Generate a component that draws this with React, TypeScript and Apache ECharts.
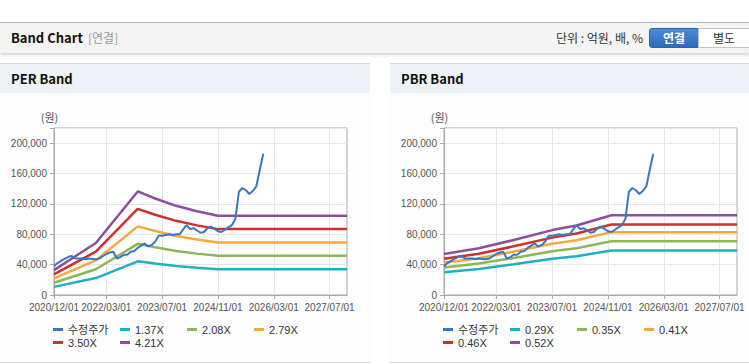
import React, { useEffect, useRef } from "react";
import * as echarts from "echarts";

// ---------- data ----------
const START_YEAR = 2020;
const START_MONTH = 12;
const MONTH_COUNT = 85; // 2020/12 .. 2027/12

const X_TICKS = ["2020/12/01", "2022/03/01", "2023/07/01", "2024/11/01", "2026/03/01", "2027/07/01"];

// adjusted share price (수정주가), monthly from 2020/12
const PRICE = [
  38000, 42000, 45000, 47500, 50000, 51500, 48000, 48000, 48000, 47000,
  48000, 47500, 47000, 48000, 51000, 54000, 56000, 57000, 48000, 50000,
  53000, 53000, 57000, 58000, 62000, 65000, 68000, 64000, 66000, 70000,
  78000, 78000, 79000, 80000, 79000, 80000, 80000, 86000, 92000, 87000,
  88000, 85000, 82000, 83000, 88000, 90000, 87000, 84000, 83000, 86000,
  89000, 92000, 100000, 136000, 141000, 138000, 133000, 137000, 143000, 165000,
  186000,
];

const PER_NAMES = ["1.37X", "2.08X", "2.79X", "3.50X", "4.21X"];
const PER_1_37 = [["2020/12/01", 10700], ["2021/12/01", 22300], ["2022/12/01", 44400], ["2023/05/01", 41400], ["2023/11/01", 38200], ["2024/05/01", 35900], ["2024/11/01", 34000], ["2027/12/01", 34000]];
const PER_2_08 = [["2020/12/01", 16200], ["2021/12/01", 33900], ["2022/12/01", 67400], ["2023/05/01", 62800], ["2023/11/01", 58000], ["2024/05/01", 54500], ["2024/11/01", 51600], ["2027/12/01", 51600]];
const PER_2_79 = [["2020/12/01", 21800], ["2021/12/01", 45500], ["2022/12/01", 90400], ["2023/05/01", 84300], ["2023/11/01", 77800], ["2024/05/01", 73100], ["2024/11/01", 69200], ["2027/12/01", 69200]];
const PER_3_50 = [["2020/12/01", 27300], ["2021/12/01", 57100], ["2022/12/01", 113400], ["2023/05/01", 105700], ["2023/11/01", 97700], ["2024/05/01", 91700], ["2024/11/01", 86800], ["2027/12/01", 86800]];
const PER_4_21 = [["2020/12/01", 32800], ["2021/12/01", 68600], ["2022/12/01", 136400], ["2023/05/01", 127100], ["2023/11/01", 117500], ["2024/05/01", 110300], ["2024/11/01", 104400], ["2027/12/01", 104400]];

const PBR_NAMES = ["0.29X", "0.35X", "0.41X", "0.46X", "0.52X"];
const PBR_0_29 = [["2020/12/01", 30100], ["2021/10/01", 34300], ["2022/08/01", 40400], ["2023/07/01", 47700], ["2024/02/01", 51000], ["2024/12/01", 58600], ["2027/12/01", 58600]];
const PBR_0_35 = [["2020/12/01", 36300], ["2021/10/01", 41400], ["2022/08/01", 48800], ["2023/07/01", 57500], ["2024/02/01", 61600], ["2024/12/01", 70700], ["2027/12/01", 70700]];
const PBR_0_41 = [["2020/12/01", 42600], ["2021/10/01", 48500], ["2022/08/01", 57200], ["2023/07/01", 67400], ["2024/02/01", 72200], ["2024/12/01", 82800], ["2027/12/01", 82800]];
const PBR_0_46 = [["2020/12/01", 47700], ["2021/10/01", 54400], ["2022/08/01", 64100], ["2023/07/01", 75600], ["2024/02/01", 81000], ["2024/12/01", 92900], ["2027/12/01", 92900]];
const PBR_0_52 = [["2020/12/01", 54000], ["2021/10/01", 61500], ["2022/08/01", 72500], ["2023/07/01", 85500], ["2024/02/01", 91500], ["2024/12/01", 105000], ["2027/12/01", 105000]];

const PRICE_NAME = "수정주가";
const PRICE_COLOR = "#3b76c6";
const BAND_COLORS = ["#1fb1c2", "#8db656", "#f3a93c", "#c9322e", "#8e4f9a"];

// ---------- helpers ----------
function buildMonths(y0: number, m0: number, n: number): string[] {
  const out: string[] = [];
  let y = y0, m = m0;
  for (let i = 0; i < n; i++) {
    out.push(`${y}/${m < 10 ? "0" + m : m}/01`);
    m++;
    if (m > 12) { m = 1; y++; }
  }
  return out;
}
const MONTHS = buildMonths(START_YEAR, START_MONTH, MONTH_COUNT);

const FONT = "'Liberation Sans', 'Noto Sans CJK KR', sans-serif";
const KFONT = "'Noto Sans CJK KR', 'Noto Sans', sans-serif";
const isTick = (_i: number, v: string) => X_TICKS.indexOf(v) >= 0;

function makeXAxis(gridIndex: number) {
  return {
    type: "category",
    gridIndex,
    data: MONTHS,
    boundaryGap: false,
    axisLine: { show: true, lineStyle: { color: "#aaaaaa" } },
    axisTick: { show: true, length: 4, interval: isTick, lineStyle: { color: "#aaaaaa" } },
    axisLabel: { interval: isTick, margin: 7, fontSize: 10, color: "#555", fontFamily: FONT, hideOverlap: false },
    splitLine: { show: true, interval: isTick, lineStyle: { color: "#e6e6e6" } },
  };
}

function makeYAxis(gridIndex: number) {
  return {
    type: "value",
    gridIndex,
    min: 0,
    max: 220000,
    interval: 40000,
    name: "(원)",
    nameLocation: "end",
    nameGap: 6,
    nameTextStyle: { fontSize: 11, color: "#555", fontFamily: KFONT, padding: [0, 9, 0, 0] },
    axisLine: { show: true, lineStyle: { color: "#aaaaaa" } },
    axisTick: { show: true, length: 4, lineStyle: { color: "#aaaaaa" } },
    axisLabel: {
      margin: 7, fontSize: 10, color: "#555", fontFamily: FONT,
      formatter: (v: number) => (v > 200000 ? "" : v.toLocaleString("en-US")),
    },
    splitLine: { show: true, lineStyle: { color: "#e6e6e6" } },
  };
}

function lineSeries(name: string, data: any[], color: string, idx: number, width: number, z: number) {
  return {
    type: "line",
    name,
    data,
    xAxisIndex: idx,
    yAxisIndex: idx,
    symbol: "none",
    showSymbol: false,
    color,
    lineStyle: { color, width },
    silent: true,
    z,
  };
}

function makeLegend(left: number, names: string[]) {
  return {
    data: [PRICE_NAME, ...names],
    left,
    top: 323,
    width: 270,
    padding: 0,
    itemWidth: 10,
    itemHeight: 3,
    itemGap: 0,
    icon: "rect",
    selectedMode: false,
    textStyle: { fontSize: 11, color: "#333", fontFamily: FONT, width: 52, lineHeight: 13 },
  };
}

const PER_BANDS = [PER_1_37, PER_2_08, PER_2_79, PER_3_50, PER_4_21];
const PBR_BANDS = [PBR_0_29, PBR_0_35, PBR_0_41, PBR_0_46, PBR_0_52];

function ChartArea() {
  const ref = useRef<HTMLDivElement>(null);
  useEffect(() => {
    if (!ref.current) return;
    const chart = echarts.init(ref.current, undefined, { renderer: "svg" });
    const series: any[] = [];
    PER_BANDS.forEach((b, i) => series.push(lineSeries(PER_NAMES[i], b, BAND_COLORS[i], 0, 2.5, 2)));
    series.push(lineSeries(PRICE_NAME, PRICE, PRICE_COLOR, 0, 2, 3));
    PBR_BANDS.forEach((b, i) => series.push(lineSeries(PBR_NAMES[i], b, BAND_COLORS[i], 1, 2.5, 2)));
    series.push(lineSeries(PRICE_NAME, PRICE, PRICE_COLOR, 1, 2, 3));
    chart.setOption({
      animation: false,
      grid: [
        { left: 54, top: 128, width: 293, height: 167, show: true, borderColor: "#aaaaaa", borderWidth: 1, backgroundColor: "#ffffff" },
        { left: 444, top: 128, width: 293, height: 167, show: true, borderColor: "#aaaaaa", borderWidth: 1, backgroundColor: "#ffffff" },
      ],
      xAxis: [makeXAxis(0), makeXAxis(1)],
      yAxis: [makeYAxis(0), makeYAxis(1)],
      legend: [makeLegend(53, PER_NAMES), makeLegend(443, PBR_NAMES)],
      series,
    });
    return () => chart.dispose();
  }, []);
  return <div ref={ref} style={{ position: "absolute", left: 0, top: 0, width: 749, height: 364 }} />;
}

function Panel({ left, title }: { left: number; title: string }) {
  return (
    <div style={{ position: "absolute", left, top: 63, width: 370, height: 298, borderTop: "1px solid #d8d8d8", borderBottom: "1px solid #d8d8d8", background: "#fdfdfd" }}>
      <div style={{ position: "absolute", left: 0, top: 0, width: 370, height: 29, background: "#eef1f6" }}>
        <span style={{ position: "absolute", left: 11, top: 6, fontFamily: KFONT, fontWeight: 700, fontSize: 13, lineHeight: "17px", color: "#111" }}>{title}</span>
      </div>
    </div>
  );
}

export default function App() {
  return (
    <div style={{ position: "fixed", left: 0, top: 0, width: 749, height: 364, overflow: "hidden", background: "#ffffff" }}>
      <div style={{ position: "absolute", left: 0, top: 22, width: 749, height: 30, background: "#f4f4f4", borderTop: "1px solid #b5b5b5", boxShadow: "0 2px 3px rgba(0,0,0,0.18)" }}>
        <span style={{ position: "absolute", left: 11, top: 6, fontFamily: KFONT, fontWeight: 700, fontSize: 13, lineHeight: "17px", color: "#111" }}>Band Chart</span>
        <span style={{ position: "absolute", left: 88, top: 6, fontFamily: KFONT, fontSize: 12, lineHeight: "17px", color: "#999" }}>[연결]</span>
        <span style={{ position: "absolute", right: 106, top: 6, fontFamily: KFONT, fontSize: 12, lineHeight: "17px", color: "#333" }}>단위 : 억원, 배, %</span>
        <div style={{ position: "absolute", left: 649, top: 5, width: 50, height: 20, boxSizing: "border-box", borderRadius: "3px 0 0 3px", border: "1px solid #2c64a9", background: "linear-gradient(#4b8bd5, #2f6cb7)", color: "#fff", fontFamily: KFONT, fontWeight: 700, fontSize: 12, lineHeight: "18px", textAlign: "center" }}>연결</div>
        <div style={{ position: "absolute", left: 698, top: 5, width: 60, height: 20, boxSizing: "border-box", border: "1px solid #c4c4c4", background: "#ffffff", color: "#333", fontFamily: KFONT, fontSize: 12, lineHeight: "18px", paddingLeft: 14 }}>별도</div>
      </div>
      <Panel left={0} title="PER Band" />
      <Panel left={390} title="PBR Band" />
      <ChartArea />
    </div>
  );
}
